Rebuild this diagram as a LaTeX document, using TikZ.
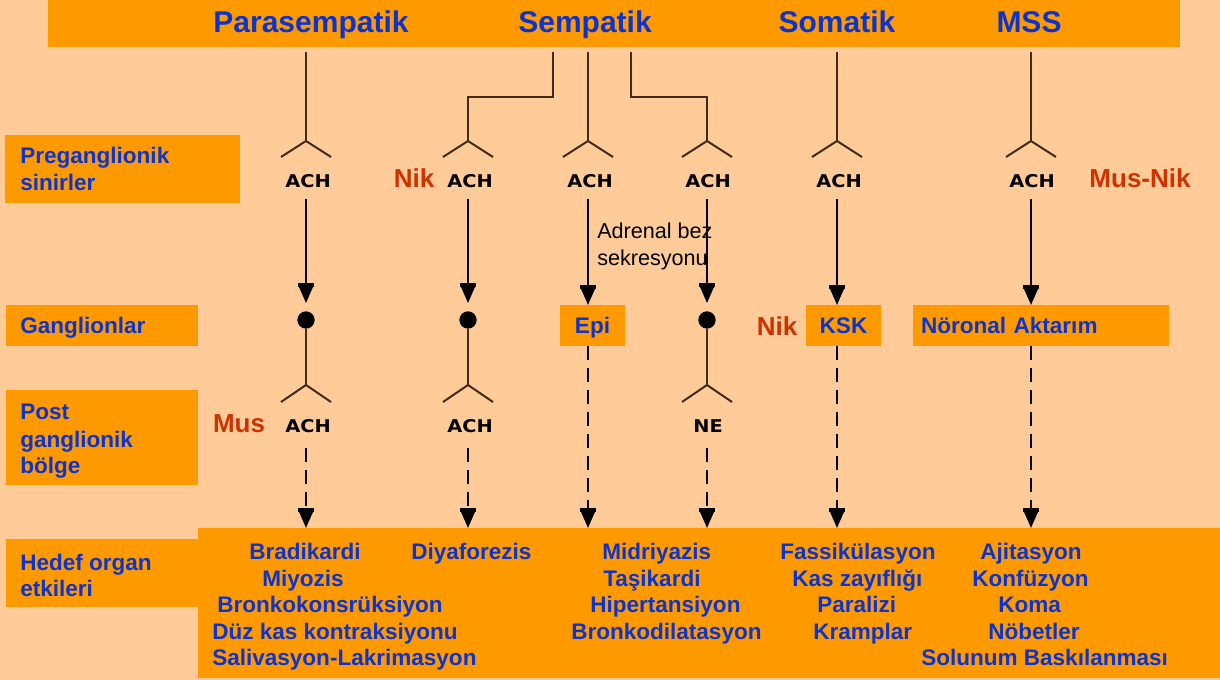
\documentclass[tikz,border=0pt]{standalone}
\usepackage{fontspec}
\setmainfont{Liberation Sans}
\newfontfamily\ntfont{DejaVu Sans}
\usetikzlibrary{arrows.meta}
\definecolor{bg}{RGB}{255,204,153}
\definecolor{org}{RGB}{255,153,0}
\definecolor{blu}{RGB}{12,52,204}
\definecolor{rd}{RGB}{204,51,0}
\definecolor{brn}{RGB}{66,44,24}
\newcommand\forkat[1]{\draw[tree] (#1) -- ++(-25,16) (#1) -- ++(25,16);}
\newcommand\nt[1]{\scalebox{1.1}[1]{#1}}
\begin{document}
\begin{tikzpicture}[x=0.75pt,y=-0.75pt,
  box/.style={fill=org, draw=none, inner sep=0pt, outer sep=0pt},
  mid/.style={box, anchor=north west, text=blu, font=\bfseries\fontsize{16.9}{20}\selectfont, text height=12pt, text depth=0pt, minimum height=30.75pt},
  lbl/.style={text=blu, font=\bfseries\fontsize{16.9}{20}\selectfont, anchor=base west, inner sep=0pt},
  ttl/.style={text=blu, font=\bfseries\fontsize{22.5}{27}\selectfont, anchor=base, inner sep=0pt},
  redl/.style={text=rd, font=\bfseries\fontsize{19.5}{23}\selectfont, anchor=base, inner sep=0pt},
  ntr/.style={text=black, font=\ntfont\bfseries\fontsize{13.2}{15}\selectfont, anchor=base, inner sep=0pt},
  plain/.style={text=black, font=\fontsize{16.2}{20}\selectfont, anchor=base west, inner sep=0pt},
  dot/.style={circle, fill=black, inner sep=0pt, minimum size=13pt},
  tree/.style={draw=brn, line width=1.5pt},
  arr/.style={draw=black, line width=1.6pt, -{Rectangle[width=12pt,length=3pt]Triangle[width=10pt,length=12pt]}},
  dsh/.style={arr, dash pattern=on 10.5pt off 6pt}
]
\useasboundingbox (0,0) rectangle (1220,680);
\fill[bg] (0,0) rectangle (1220,680);

% top bar and titles
\node[box, anchor=north west, minimum width=849pt, minimum height=35.25pt] (bar) at (48,0) {};
\node[ttl] (tpara) at (311,33) {Parasempatik};
\node[ttl] (tsemp) at (585,33) {Sempatik};
\node[ttl] (tsoma) at (837,33) {Somatik};
\node[ttl] (tmss) at (1029,33) {MSS};

% left label boxes
\node[box, anchor=north west, minimum width=176.25pt, minimum height=51pt] (Lpre) at (5,135) {};
\node[box, anchor=north west, minimum width=144pt, minimum height=30.75pt] (Lgan) at (6,305) {};
\node[box, anchor=north west, minimum width=144pt, minimum height=71.25pt] (Lpost) at (6,390) {};
\node[box, anchor=north west, minimum width=144pt, minimum height=51pt] (Lhed) at (6,539) {};
\node[lbl] (tpre1) at (20,164) {Preganglionik};
\node[lbl] (tpre2) at (20,191) {sinirler};
\node[lbl] (tgan) at (20,334) {Ganglionlar};
\node[lbl] (tpost1) at (20,420) {Post};
\node[lbl] (tpost2) at (20,448) {ganglionik};
\node[lbl] (tpost3) at (20,474) {bölge};
\node[lbl] (thed1) at (20,570) {Hedef organ};
\node[lbl] (thed2) at (20,596) {etkileri};

% bottom box
\node[box, anchor=north west, minimum width=766.5pt, minimum height=112.5pt] (bot) at (198,528) {};

% column x positions
\coordinate (c1) at (306,0);
\coordinate (c2) at (468,0);
\coordinate (c3) at (588,0);
\coordinate (c4) at (707,0);
\coordinate (c5) at (837,0);
\coordinate (c6) at (1031,0);

% top tree lines
\coordinate (s1) at (306,52);
\coordinate (s2) at (553,52);
\coordinate (s3) at (588,52);
\coordinate (s4) at (631,52);
\coordinate (s5) at (837,52);
\coordinate (s6) at (1031,52);
\coordinate (k2) at (468,97);
\coordinate (k4) at (707,97);
\coordinate (f1) at (306,141);
\coordinate (f2) at (468,141);
\coordinate (f3) at (588,141);
\coordinate (f4) at (707,141);
\coordinate (f5) at (837,141);
\coordinate (f6) at (1031,141);
\draw[tree] (s1) -- (f1);
\draw[tree] (s2) |- (k2) -- (f2);
\draw[tree] (s3) -- (f3);
\draw[tree] (s4) |- (k4) -- (f4);
\draw[tree] (s5) -- (f5);
\draw[tree] (s6) -- (f6);
\forkat{f1}\forkat{f2}\forkat{f3}\forkat{f4}\forkat{f5}\forkat{f6}

% preganglionic transmitters
\node[ntr] (a1) at (308,188) {\nt{ACH}};
\node[ntr] (a2) at (470,188) {\nt{ACH}};
\node[ntr] (a3) at (590,188) {\nt{ACH}};
\node[ntr] (a4) at (708,188) {\nt{ACH}};
\node[ntr] (a5) at (839,188) {\nt{ACH}};
\node[ntr] (a6) at (1032,188) {\nt{ACH}};
\node[redl] (nik1) at (414,188) {Nik};
\node[redl] (musnik) at (1140,188) {Mus-Nik};

\node[plain] (adr1) at (597,239) {Adrenal bez};
\node[plain] (adr2) at (597,266) {sekresyonu};

% ganglia
\node[dot] (d1) at (306,320) {};
\node[dot] (d2) at (468,320) {};
\node[dot] (d4) at (707,320) {};
\node[mid, minimum width=48.75pt] (epi) at (560,305) {Epi};
\node[mid, minimum width=56.25pt] (ksk) at (806,305) {KSK};
\node[mid, minimum width=192pt, text width=180pt, align=left] (nor) at (913,305) {Nöronal Aktarım};
\node[redl] (nik2) at (777,336) {Nik};

% arrows to ganglia
\draw[arr] (c1 |- 0,199) -- ([yshift=6pt]d1.north);
\draw[arr] (c2 |- 0,199) -- ([yshift=6pt]d2.north);
\draw[arr] (c3 |- 0,199) -- (c3 |- epi.north);
\draw[arr] (c4 |- 0,199) -- ([yshift=6pt]d4.north);
\draw[arr] (c5 |- 0,199) -- (c5 |- ksk.north);
\draw[arr] (c6 |- 0,199) -- (c6 |- nor.north);

% postganglionic
\coordinate (g1) at (306,385);
\coordinate (g2) at (468,385);
\coordinate (g4) at (707,385);
\draw[tree] (d1) -- (g1);
\draw[tree] (d2) -- (g2);
\draw[tree] (d4) -- (g4);
\draw[tree] (g1) -- ++(-25,17) (g1) -- ++(25,17);
\draw[tree] (g2) -- ++(-25,17) (g2) -- ++(25,17);
\draw[tree] (g4) -- ++(-25,17) (g4) -- ++(25,17);
\node[ntr] (b1) at (308,433) {\nt{ACH}};
\node[ntr] (b2) at (470,433) {\nt{ACH}};
\node[ntr] (b4) at (708,433) {\nt{NE}};
\node[redl] (mus) at (239,433) {Mus};

% dashed arrows to target box
\draw[dsh] (c1 |- 0,448) -- (c1 |- bot.north);
\draw[dsh] (c2 |- 0,448) -- (c2 |- bot.north);
\draw[dsh] (c3 |- epi.south) -- (c3 |- bot.north);
\draw[dsh] (c4 |- 0,448) -- (c4 |- bot.north);
\draw[dsh] (c5 |- ksk.south) -- (c5 |- bot.north);
\draw[dsh] (c6 |- nor.south) -- (c6 |- bot.north);

% target effects
\node[lbl] (e11) at (249,559) {Bradikardi};
\node[lbl] (e12) at (262,586) {Miyozis};
\node[lbl] (e13) at (217,612) {Bronkokonsrüksiyon};
\node[lbl] (e14) at (212,639) {Düz kas kontraksiyonu};
\node[lbl] (e15) at (212,665) {Salivasyon-Lakrimasyon};
\node[lbl] (e21) at (411,559) {Diyaforezis};
\node[lbl] (e31) at (602,559) {Midriyazis};
\node[lbl] (e32) at (603,586) {Taşikardi};
\node[lbl] (e33) at (590,612) {Hipertansiyon};
\node[lbl] (e34) at (571,639) {Bronkodilatasyon};
\node[lbl] (e51) at (780,559) {Fassikülasyon};
\node[lbl] (e52) at (792,586) {Kas zayıflığı};
\node[lbl] (e53) at (817,612) {Paralizi};
\node[lbl] (e54) at (813,639) {Kramplar};
\node[lbl] (e61) at (980,559) {Ajitasyon};
\node[lbl] (e62) at (972,586) {Konfüzyon};
\node[lbl] (e63) at (998,612) {Koma};
\node[lbl] (e64) at (988,639) {Nöbetler};
\node[lbl] (e65) at (921,665) {Solunum Baskılanması};
\end{tikzpicture}
\end{document}
